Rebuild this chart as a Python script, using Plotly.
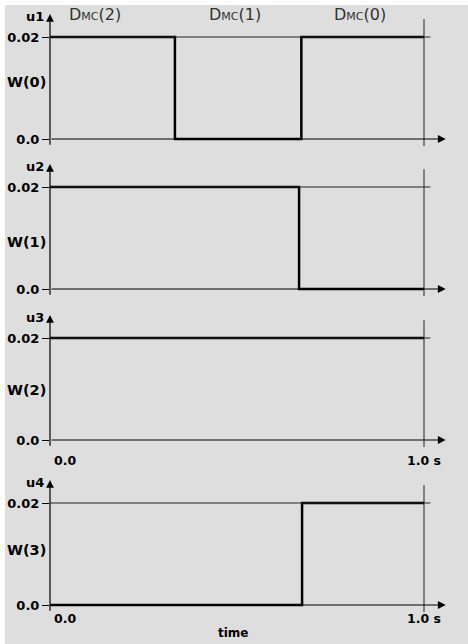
import plotly.graph_objects as go

# ---- data ----
t_w0 = [0.0, 0.334, 0.672, 1.0]
v_w0 = [0.02, 0.0, 0.02, 0.02]
t_w1 = [0.0, 0.666, 1.0]
v_w1 = [0.02, 0.0, 0.0]
t_w2 = [0.0, 1.0]
v_w2 = [0.02, 0.02]
t_w3 = [0.0, 0.674, 1.0]
v_w3 = [0.0, 0.02, 0.02]

series_t = [t_w0, t_w1, t_w2, t_w3]
series_v = [v_w0, v_w1, v_w2, v_w3]
u_labels = ["u1", "u2", "u3", "u4"]
w_labels = ["W(0)", "W(1)", "W(2)", "W(3)"]
ytick_vals = [0.0, 0.02]
ytick_text = ["0.0", "0.02"]
region_labels = ["D<span style='font-size:11px'>MC</span>(2)",
                 "D<span style='font-size:11px'>MC</span>(1)",
                 "D<span style='font-size:11px'>MC</span>(0)"]
region_x = [0.12, 0.495, 0.83]

# ---- layout geometry (reference pixel coords) ----
W, H = 468, 644
zero_px = [139, 289, 440, 605]
scale = 5100.0  # px per unit
YMIN, YMAX = -0.0014, 0.0245
XMAX = 1.06
x0_px = 50
x_scale = 374.0
FONT = "DejaVu Sans, Liberation Sans, Arial, sans-serif"


def px_x(px):
    return px / W


def px_y(px):
    return 1 - px / H


fig = go.Figure()
layout = dict(
    width=W, height=H, margin=dict(l=0, r=0, t=0, b=0),
    paper_bgcolor="white", plot_bgcolor="rgba(0,0,0,0)",
    showlegend=False, font=dict(family=FONT, color="black"),
)
shapes = [dict(type="rect", xref="paper", yref="paper", x0=px_x(5), x1=1, y0=0, y1=px_y(5),
               fillcolor="#dedede", line=dict(width=0), layer="below")]
annotations = []
w_label_y = [0.0112, 0.0092, 0.0098, 0.0108]

for i in range(4):
    k = "" if i == 0 else str(i + 1)
    xa, ya = "x" + k, "y" + k
    bottom = zero_px[i] - YMIN * scale
    top = zero_px[i] - YMAX * scale
    layout["xaxis" + k] = dict(domain=[px_x(x0_px), px_x(x0_px + XMAX * x_scale)], range=[0, XMAX],
                               anchor=ya, showticklabels=False, showgrid=False, zeroline=False,
                               showline=False, ticks="", fixedrange=True)
    layout["yaxis" + k] = dict(domain=[px_y(bottom), px_y(top)], range=[YMIN, YMAX], anchor=xa,
                               tickvals=ytick_vals, ticktext=["<b>%s</b>" % t for t in ytick_text],
                               ticks="outside", ticklen=7, tickcolor="black", tickwidth=1,
                               tickfont=dict(family=FONT, size=13, color="black"),
                               showgrid=False, zeroline=False, showline=False, fixedrange=True)
    # reference line at 0.02
    shapes.append(dict(type="line", xref=xa, yref=ya, x0=0, x1=1.017, y0=0.02, y1=0.02,
                       line=dict(color="#222", width=1)))
    # vertical line at 1.0 s
    shapes.append(dict(type="line", xref=xa, yref=ya, x0=1.0, x1=1.0, y0=YMIN, y1=0.0235,
                       line=dict(color="#222", width=1)))
    fig.add_trace(go.Scatter(x=series_t[i], y=series_v[i], mode="lines", line_shape="hv",
                             line=dict(color="black", width=2.5), xaxis=xa, yaxis=ya,
                             hoverinfo="skip"))
    # y axis arrow
    annotations.append(dict(x=0, y=YMAX, ax=0, ay=YMIN, xref=xa, yref=ya, axref=xa, ayref=ya,
                            text="", showarrow=True, arrowhead=2, arrowsize=1.3, arrowwidth=1.2,
                            arrowcolor="black"))
    # x axis arrow
    annotations.append(dict(x=XMAX - 0.002, y=0, ax=0, ay=0, xref=xa, yref=ya, axref=xa, ayref=ya,
                            text="", showarrow=True, arrowhead=2, arrowsize=1.3, arrowwidth=1.2,
                            arrowcolor="black"))
    annotations.append(dict(x=px_x(24), xref="paper", xanchor="left", y=0.0241, yref=ya,
                            yanchor="middle", text="<b>%s</b>" % u_labels[i], showarrow=False,
                            font=dict(family=FONT, size=13, color="black")))
    annotations.append(dict(x=px_x(5), xref="paper", xanchor="left", y=w_label_y[i], yref=ya,
                            yanchor="middle", text="<b>%s</b>" % w_labels[i], showarrow=False,
                            font=dict(family=FONT, size=14.5, color="black")))

for txt, xx in zip(region_labels, region_x):
    annotations.append(dict(x=xx, xref="x", y=px_y(15), yref="paper", yanchor="middle",
                            text=txt, showarrow=False,
                            font=dict(family=FONT, size=16, color="#333")))

for k, ypx in [("3", 460), ("4", 618)]:
    annotations.append(dict(x=0.005, xref="x" + k, xanchor="left", y=px_y(ypx), yref="paper",
                            yanchor="middle", text="<b>0.0</b>", showarrow=False,
                            font=dict(family=FONT, size=12.5, color="black")))
    annotations.append(dict(x=1.0, xref="x" + k, xanchor="center", y=px_y(ypx), yref="paper",
                            yanchor="middle", text="<b>1.0 s</b>", showarrow=False,
                            font=dict(family=FONT, size=12.5, color="black")))
annotations.append(dict(x=0.49, xref="x4", xanchor="center", y=px_y(633), yref="paper",
                        yanchor="middle", text="<b>time</b>", showarrow=False,
                        font=dict(family=FONT, size=12, color="black")))

layout["shapes"] = shapes
layout["annotations"] = annotations
fig.update_layout(**layout)
fig.write_html("out.html", config={"displayModeBar": False, "staticPlot": True},
               post_script="document.body.style.margin='0px';document.body.style.padding='0px';")
